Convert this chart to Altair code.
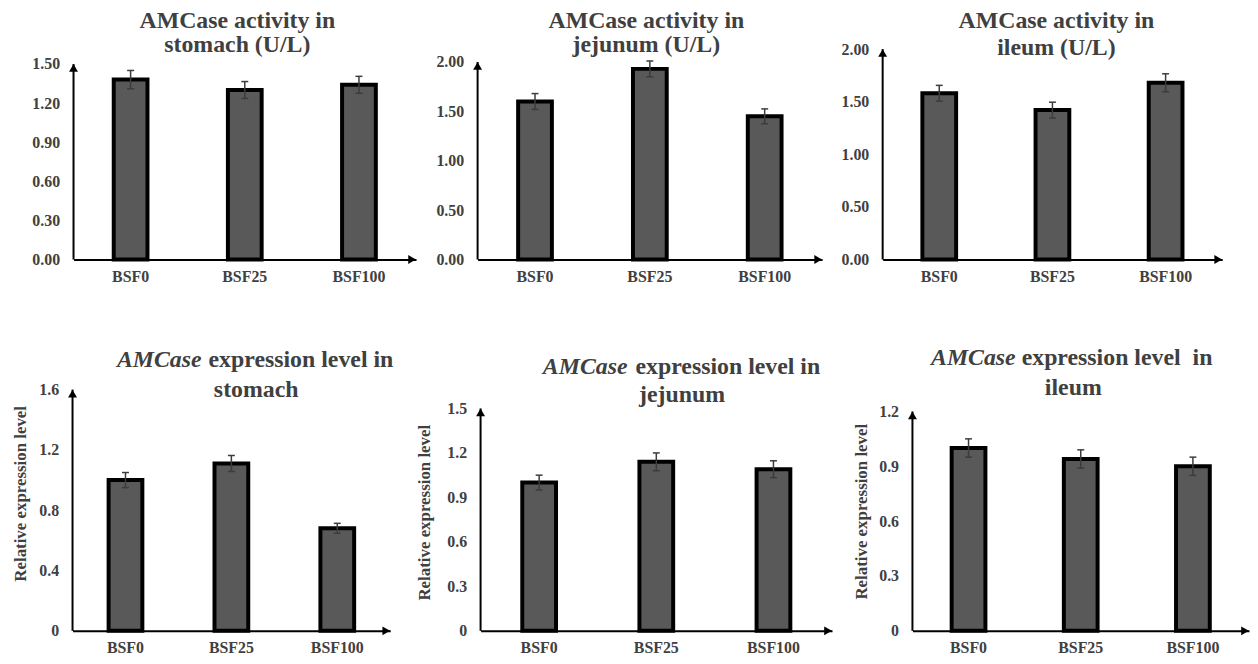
import altair as alt
import pandas as pd

# ---------------- data ----------------
groups = ["BSF0", "BSF25", "BSF100"]

# AMCase activity (U/L)
act_stomach = [1.38, 1.30, 1.34]
act_stomach_err = [0.07, 0.065, 0.065]
act_jejunum = [1.60, 1.93, 1.45]
act_jejunum_err = [0.08, 0.08, 0.075]
act_ileum = [1.58, 1.42, 1.68]
act_ileum_err = [0.075, 0.075, 0.085]

# AMCase relative expression level
expr_stomach = [1.00, 1.11, 0.68]
expr_stomach_err = [0.05, 0.053, 0.033]
expr_jejunum = [1.00, 1.14, 1.09]
expr_jejunum_err = [0.05, 0.06, 0.057]
expr_ileum = [1.00, 0.94, 0.90]
expr_ileum_err = [0.05, 0.05, 0.05]

ticks_act_stomach = [0, 0.3, 0.6, 0.9, 1.2, 1.5]
ticks_act_jejunum = [0, 0.5, 1.0, 1.5, 2.0]
ticks_act_ileum = [0, 0.5, 1.0, 1.5, 2.0]
ticks_expr_stomach = [0, 0.4, 0.8, 1.2, 1.6]
ticks_expr_jejunum = [0, 0.3, 0.6, 0.9, 1.2, 1.5]
ticks_expr_ileum = [0, 0.3, 0.6, 0.9, 1.2]

y_title = "Relative expression level"

# ---------------- style ----------------
FONT = "Liberation Serif, Times New Roman, serif"
TXT = "#404040"
BAR = "#595959"
ERR = "#3c3c3c"
COL_W = [408, 408, 370]
ROW_H = [212, 243]

FMT2 = "format(datum.value, '.2f')"
FMT1 = "datum.value == 0 ? '0' : format(datum.value, '.1f')"


def text_layer(s, x, y, align="center", size=24, italic=False, angle=None,
               baseline="alphabetic"):
    kw = dict(font=FONT, fontSize=size, fontWeight="bold", color=TXT,
              align=align, baseline=baseline)
    if italic:
        kw["fontStyle"] = "italic"
    if angle is not None:
        kw["angle"] = angle
    return alt.Chart(pd.DataFrame({"t": [s]})).mark_text(**kw).encode(
        text="t:N", x=alt.value(x), y=alt.value(y))


def panel(values, errs, ticks, label_expr, col, row, off, W, axis_len, texts):
    width = COL_W[col]
    height = ROW_H[row]
    dmax = ticks[-1] * height / axis_len
    df = pd.DataFrame({
        "group": groups,
        "value": values,
        "lo": [v - e for v, e in zip(values, errs)],
        "hi": [v + e for v, e in zip(values, errs)],
    })
    axdf = pd.DataFrame({"y0": [0.0], "y1": [ticks[-1]]})

    xscale = alt.Scale(domain=groups, range=[off, off + W],
                       paddingInner=0, paddingOuter=0)
    xaxis = alt.Axis(title=None, domainColor="black", domainWidth=2,
                     ticks=False, grid=False, labelPadding=9, labelAngle=0,
                     labelFont=FONT, labelFontSize=16, labelFontWeight="bold",
                     labelColor=TXT)
    yscale = alt.Scale(domain=[0, dmax], nice=False, zero=True)
    yaxis = alt.Axis(title=None, values=ticks, labelExpr=label_expr,
                     domain=False, ticks=False, grid=False, labelPadding=14,
                     offset=-off, labelFont=FONT, labelFontSize=16,
                     labelFontWeight="bold", labelColor=TXT)

    def X():
        return alt.X("group:N", sort=groups, scale=xscale, axis=xaxis)

    def Y(f):
        return alt.Y(f, scale=yscale, axis=yaxis)

    base = alt.Chart(df)
    bars = base.mark_bar(width=34, fill=BAR, stroke="black", strokeWidth=4).encode(
        x=X(), y=Y("value:Q"))
    err = base.mark_rule(color=ERR, strokeWidth=1.5).encode(
        x=X(), y=Y("lo:Q"), y2="hi:Q")
    cap_hi = base.mark_tick(color=ERR, size=7, thickness=1.5, opacity=1).encode(
        x=X(), y=Y("hi:Q"))
    cap_lo = base.mark_tick(color=ERR, size=7, thickness=1.5, opacity=1).encode(
        x=X(), y=Y("lo:Q"))

    ax = alt.Chart(axdf)
    yline = ax.mark_rule(color="black", strokeWidth=2).encode(
        x=alt.value(off), y=Y("y0:Q"), y2="y1:Q")
    yarrow = ax.mark_point(shape="triangle-up", filled=True, size=80,
                           color="black", opacity=1, yOffset=4).encode(
        x=alt.value(off), y=Y("y1:Q"))
    xarrow = ax.mark_point(shape="triangle-right", filled=True, size=80,
                           color="black", opacity=1, xOffset=-4).encode(
        x=alt.value(off + W), y=Y("y0:Q"))

    layers = [bars, err, cap_hi, cap_lo, yline, yarrow, xarrow] + texts
    return alt.layer(*layers).properties(width=width, height=height)


p1 = panel(act_stomach, act_stomach_err, ticks_act_stomach, FMT2, 0, 0, 1, 345, 197, [
    text_layer("AMCase activity in", 166, -21),
    text_layer("stomach (U/L)", 166, 3),
])
p2 = panel(act_jejunum, act_jejunum_err, ticks_act_jejunum, FMT2, 1, 0, 0, 347, 199, [
    text_layer("AMCase activity in", 170, -21),
    text_layer("jejunum (U/L)", 170, 3),
])
p3 = panel(act_ileum, act_ileum_err, ticks_act_ileum, FMT2, 2, 0, 0, 342, 212, [
    text_layer("AMCase activity in", 175, -21),
    text_layer("ileum (U/L)", 175, 6),
])
p4 = panel(expr_stomach, expr_stomach_err, ticks_expr_stomach, FMT1, 0, 1, 0, 320, 243, [
    text_layer("AMCase", 130, -23, align="right", italic=True),
    text_layer("expression level in", 137, -23, align="left"),
    text_layer("stomach", 185, 7),
    text_layer(y_title, -52, 105, size=17, angle=270, baseline="middle"),
])
p5 = panel(expr_jejunum, expr_jejunum_err, ticks_expr_jejunum, FMT1, 1, 1, 3, 354, 224, [
    text_layer("AMCase", 151, -16, align="right", italic=True),
    text_layer("expression level in", 159, -16, align="left"),
    text_layer("jejunum", 206, 12),
    text_layer(y_title, -53, 124, size=17, angle=270, baseline="middle"),
])
p6 = panel(expr_ileum, expr_ileum_err, ticks_expr_ileum, FMT1, 2, 1, 30, 339, 221, [
    text_layer("AMCase", 134, -25, align="right", italic=True),
    text_layer("expression level\u00a0 in", 140, -25, align="left"),
    text_layer("ileum", 192, 5),
    text_layer(y_title, -21, 123, size=17, angle=270, baseline="middle"),
])

chart = alt.concat(
    p1, p2, p3, p4, p5, p6,
    columns=3,
    spacing={"row": 131, "column": 0},
    bounds="flush",
    align="each",
).properties(
    padding={"left": 4, "top": -1, "right": 0, "bottom": 0},
    background="white",
).configure_view(stroke=None)

chart.save("out.html", embed_options={"renderer": "svg", "actions": False})
